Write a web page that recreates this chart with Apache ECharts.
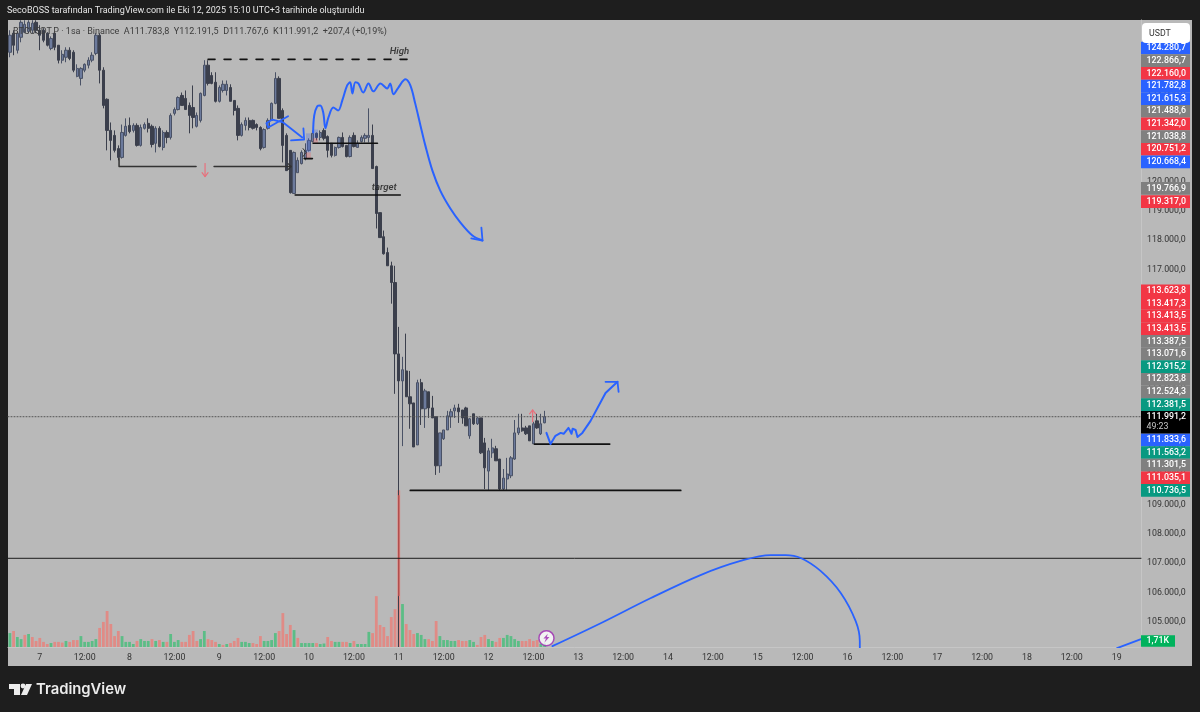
<!DOCTYPE html>
<html lang="tr">
<head>
<meta charset="UTF-8">
<title>BTCUSDT.P 1sa</title>
<script src="https://cdn.jsdelivr.net/npm/echarts@6/dist/echarts.min.js"></script>
<style>
  html, body { margin: 0; padding: 0; background: #1e1e1e; }
  #main { width: 1200px; height: 712px; }
</style>
</head>
<body>
<div id="main"></div>
<script type="text/javascript">
// hourly candles, 6 Oct 16:00 -> 12 Oct 15:00
var opens = [
  124400,125050,124470,124910,125080,125110,125150,125420,125150,125150,125050,124530,
  125050,124640,124130,124230,124470,124400,123580,123510,123790,123960,124130,124360,
  124980,123790,122800,121740,121570,121120,120820,121570,121910,121740,121910,121230,
  121810,121980,121880,121300,121810,121160,121670,121500,122320,122450,122930,122830,
  122590,122520,121880,122080,122930,123960,123610,123380,122730,123100,123100,123200,
  122760,122490,121570,121910,122080,122080,121940,121840,121160,121810,122080,122660,
  123510,122420,121570,121060,119590,120300,120610,120780,121060,121360,121640,121500,
  121740,121530,121300,120890,121160,121500,121230,120850,121570,121160,121360,121470,
  121500,121570,120510,118940,118120,117580,117130,116560,114130,113210,113550,112670,
  112460,111030,113150,112260,112840,112290,111990,110320,111240,111540,111990,112190,
  112290,112220,112290,111340,112090,111750,111950,111100,110140,110760,110900,110550,
  109530,109870,109980,110550,111440,111610,111610,111680,111070,111850,111410,111784
];
var closes = [
  124980,124640,125050,125420,125350,125420,125390,125150,124980,124810,124640,124870,
  124570,124130,124330,124470,124190,123790,123850,123850,123990,124130,124300,124980,
  123790,122590,121740,121400,121060,120820,121670,121880,121700,121910,121230,121840,
  121940,121810,121260,121810,121190,121670,121500,122250,122450,122860,122590,122450,
  122250,122180,122250,123000,123960,123340,123340,122730,123200,123310,123310,122730,
  122420,121570,121940,122080,121840,121810,121840,121120,121770,122080,122660,123510,
  122150,121230,120370,119620,120990,120720,120990,121060,121400,121640,121500,121670,
  121470,121060,120890,121160,121500,121190,120850,121500,121190,121300,121500,121570,
  121570,120440,118910,118090,117540,117130,116560,114130,113210,113590,112670,112430,
  110960,113150,112260,112870,112290,111950,110320,111440,111540,112020,112160,112290,
  112160,111950,111680,111920,111750,111950,110760,110250,110830,110930,110490,109530,
  109900,110040,110590,111440,111610,111510,111410,111170,111750,111610,111750,111991
];
var lows = [
  124230,124300,124360,124740,125050,125050,125050,125050,124470,124740,124600,124470,
  124470,124020,124020,124060,124130,123720,123550,123270,123720,123850,124060,124300,
  123340,122490,121060,120720,120990,120720,120780,121530,121640,121670,121190,121190,
  121770,121670,121160,120990,121160,121060,121300,121430,122250,122420,122590,122450,
  121640,121810,121840,122010,122900,123270,123310,122690,122690,123030,122930,122730,
  122250,121400,121530,121740,121740,121770,121740,121060,121120,121770,122080,122630,
  122150,120650,120370,119590,119590,120300,120580,120720,121020,121330,121400,121400,
  121400,120820,120820,120850,121120,121160,120820,120820,121160,121160,121330,121330,
  121330,120440,118400,118090,117510,117130,115840,112770,104150,110990,112670,111580,
  110960,111030,111710,111610,111950,111950,110010,110080,111200,111540,111610,111950,
  111780,111750,111680,111240,111710,111710,110720,109530,109500,110590,110490,109500,
  109500,109500,109900,110520,111370,111480,111370,111170,111070,111580,111370,111768
];
var highs = [
  125150,125150,125110,125490,125490,125490,125490,125490,125320,125220,125080,124940,
  125050,124640,124470,124570,124570,124470,123990,123890,124020,124230,124400,125050,
  125050,123890,122830,122010,121740,121230,121940,122150,122180,121980,121980,121940,
  122010,122150,121940,121880,121880,121740,121740,122320,122520,122900,123030,123100,
  122690,123270,122350,123030,124130,124130,123720,123720,123270,123440,123440,123310,
  122760,122590,122010,122180,122180,122110,121980,121880,121810,122150,122690,123720,
  123580,122490,121640,121060,121020,120820,121060,121300,121470,121740,121670,121740,
  121810,121570,121300,121190,121530,121670,121230,121570,121670,121400,121570,121640,
  122490,121940,120540,118940,118330,117750,117270,117130,115050,114030,114820,113550,
  112460,113250,113280,112940,112840,112700,111990,111440,111540,112190,112260,112400,
  112430,112220,112330,111950,112090,111990,111950,111270,110930,111240,111000,110550,
  110210,110590,110650,111880,112090,112090,111680,111680,111820,112090,112090,112192
];
// volume in thousands, g / r is the bar colour
var volumes = [
  6.0,6.9,4.3,3.4,5.2,5.6,4.3,2.6,3.9,2.2,1.3,1.7,
  2.2,2.2,1.9,2.6,2.2,3.0,3.0,4.7,2.2,2.2,2.6,3.4,
  8.2,10.8,15.5,9.9,4.7,6.9,4.7,2.2,2.2,1.3,2.6,3.4,
  2.6,2.6,3.4,2.6,3.0,2.2,2.2,5.6,2.2,3.0,2.2,2.2,
  5.2,6.9,2.6,3.4,6.9,3.4,3.0,2.2,1.3,0.9,1.3,1.7,
  2.6,3.9,2.2,2.2,1.7,1.7,1.3,4.7,2.6,2.6,3.0,6.0,
  6.9,14.6,5.6,9.5,7.3,3.9,1.7,1.7,1.7,1.7,1.7,1.3,
  1.5,4.3,2.6,2.2,2.2,2.2,2.2,1.7,2.6,1.3,1.3,1.3,
  6.5,6.0,21.9,9.5,8.6,4.7,12.9,16.3,67.5,18.5,9.9,7.3,
  5.6,6.0,5.2,3.4,3.4,2.6,11.2,4.7,3.0,3.0,2.6,2.6,
  3.0,2.6,2.6,3.0,2.2,0.9,4.3,5.2,3.4,2.6,2.2,3.9,
  3.9,5.2,4.7,3.4,2.6,2.6,2.6,3.4,2.6,3.0,1.3,1.71
];
var volumeSides = [
  'grggrgrrrrrg',
  'rrrgrrrggggg',
  'rrrrrrggggrg',
  'ggrgrgrgggrr',
  'rrrggrrrgrgr',
  'rrgggrrrgggg',
  'rrrrgrggggrg',
  'grrggrrgrggg',
  'grrrrrrrrgrr',
  'rgggrrrggggg',
  'rrrggrrrggrr',
  'gggggrrrrrgg'
].join('');

var priceTicks = [105000,106000,107000,108000,109000,110000,111000,112000,113000,114000,115000,116000,117000,118000,119000,120000,121000,122000,123000,124000,125000];
var lastPrice = 111991.2;
var countdown = '49:23';

// price axis badges, high to low
var badgeValues = [124280.7,122866.7,122160.0,121782.8,121615.3,121488.6,121342.0,121038.8,120751.2,120668.4,119766.9,119317.0,113623.8,113417.3,113413.5,113413.5,113387.5,113071.6,112915.2,112823.8,112524.3,112381.5,111833.6,111563.2,111301.5,111035.1,110736.5];
var badgeKinds = ['blue','gray','red','blue','blue','gray','red','gray','red','blue','gray','red','red','red','red','red','gray','gray','green','gray','gray','green','blue','green','gray','red','green'];

// drawings: [hours from the first bar, price]
var highLine = [[53.5,124160],[107.9,124160]];
var swingLine = [[29.7,120780],[29.7,120510],[50.3,120510]];
var swingLine2 = [[55.1,120510],[75.7,120510]];
var swingHead = [[74.9,120610],[75.7,120510],[74.9,120410]];
var targetLine = [[76.8,119540],[104.9,119540]];
var entryLine = [[81.6,121300],[98.8,121300]];
var entryMark = [[79.2,120780],[81.4,120780]];
var entryHead = [[78.9,121120],[79.7,120990],[78.9,120850]];
var lowLine = [[107.6,109480],[179.9,109480]];
var rightLine = [[140.8,111060],[160.9,111060]];
var levelLine = [[0,107170],[303,107170]];
var loopCurve = [[74.9,122220],[69.6,121840],[69.1,121980],[70.7,122110],[73.6,122010],[78.7,121500]];
var loopHead = [[75.7,121400],[79.2,121430],[79.0,121810]];
var mainCurve = [[81.6,121670],[81.9,122250],[82.7,122560],[83.5,122590],[84.3,122350],[84.9,121810],[85.7,122180],[87.0,122520],[88.3,122420],[89.4,122760],[90.7,123270],[91.5,123380],[92.1,123000],[92.9,123380],[93.7,123340],[95.0,123030],[96.4,123340],[97.7,123070],[99.6,123340],[101.4,123170],[102.2,123340],[103.1,122970],[104.4,123200],[106.3,123480],[107.6,123270],[108.9,122660],[110.3,121910],[111.6,121230],[113.5,120370],[115.6,119690],[118.3,119080],[121.0,118600],[124.2,118160],[126.9,117990]];
var mainHead = [[123.9,118060],[126.9,117990],[126.6,118430]];
var bottomCurve = [[144.0,111440],[145.1,111060],[146.4,111340],[147.8,111440],[148.6,111410],[149.9,111610],[150.7,111410],[151.0,111580],[151.8,111540],[152.3,111300],[153.6,111440],[155.8,111850],[159.8,112800],[163.0,113180]];
var bottomHead = [[159.8,113180],[163.0,113180],[163.3,112840]];
var arcCurve = [[145.6,104180],[158.5,104960],[171.8,105810],[185.2,106600],[195.9,107080],[204.0,107280],[208.0,107280],[212.0,107180],[217.3,106740],[222.7,105990],[226.7,105030],[227.8,104350],[227.8,104110]];
var arcTail = [[296.6,104110],[303,104420]];
var downArrow = [[52.7,120610],[52.7,120170]];
var downHead = [[51.9,120300],[52.7,120170],[53.5,120300]];
var upArrow = [[140.3,111820],[140.3,112220]];
var upHead = [[139.5,112090],[140.3,112220],[141.1,112090]];
var crashTint = [[104.5,109300],[104.5,105900]];
var noteRects = [
  [79.7,81.0,121640,120990,'blue'],
  [79.7,81.0,120990,120780,'pink'],
  [81.6,82.9,121770,121470,'blue'],
  [81.6,82.9,121470,121300,'pink']
];
var boltPoint = [144,104450];
var noteLabels = [[104.7,124430,'High'],[100.6,119780,'target']];

var SLOTS = 303;
var FONT = 'Roboto';
var BLUE = '#2962ff';
var BLACK = '#111111';
var PINK = '#e8707c';
var BADGE_COLORS = {blue: '#2962ff', gray: '#808080', red: '#f23645', green: '#089981'};
var RECT_COLORS = {blue: 'rgba(60,100,230,0.28)', pink: 'rgba(240,80,90,0.28)'};
var BADGE_H = 12.65;
var AXIS_FONT = 8.8;

// category labels, one slot per hour
var categories = [];
for (var s = 0; s < SLOTS; s++) {
  var hour = (16 + s) % 24;
  var day = 6 + Math.floor((16 + s) / 24);
  categories.push(hour === 0 ? String(day) : hour === 12 ? '12:00' : '');
}

var candleData = opens.map(function (o, i) { return [o, closes[i], lows[i], highs[i]]; });
var volumeData = volumes.map(function (v, i) {
  return {value: v, itemStyle: {color: volumeSides[i] === 'g' ? '#5cbd86' : '#e08b86'}};
});

function fmtPrice(v) {
  var parts = v.toFixed(1).split('.');
  return parts[0].replace(/\B(?=(\d{3})+$)/g, '.') + ',' + parts[1];
}

function drawLine(points, color, width, extra) {
  var s = {
    type: 'line', xAxisIndex: 1, yAxisIndex: 0, data: points, symbol: 'none', z: 5, silent: true,
    lineStyle: {color: color, width: width, cap: 'round', join: 'round'}
  };
  if (extra && extra.dash) s.lineStyle.type = extra.dash;
  if (extra && extra.smooth) s.smooth = extra.smooth;
  return s;
}

// labels are pushed away from the last price box so they never overlap
function badgeCenters(api) {
  var lastY = api.coord([0, lastPrice])[1];
  var centers = [];
  var limit = lastY - 5.8 - BADGE_H / 2;
  var i;
  for (i = badgeValues.length - 1; i >= 0; i--) {
    if (badgeValues[i] < lastPrice) continue;
    var up = Math.min(api.coord([0, badgeValues[i]])[1], limit);
    centers[i] = up;
    limit = up - BADGE_H;
  }
  limit = lastY + 16.8 + BADGE_H / 2;
  for (i = 0; i < badgeValues.length; i++) {
    if (badgeValues[i] > lastPrice) continue;
    var down = Math.max(api.coord([0, badgeValues[i]])[1], limit);
    centers[i] = down;
    limit = down + BADGE_H;
  }
  return centers;
}

function renderBadge(params, api) {
  var i = params.dataIndex;
  var x = params.coordSys.x + params.coordSys.width;
  var y = badgeCenters(api)[i];
  return {
    type: 'group',
    children: [
      {type: 'rect', shape: {x: x, y: y - BADGE_H / 2, width: 49, height: BADGE_H}, style: {fill: BADGE_COLORS[badgeKinds[i]]}},
      {type: 'text', style: {x: x + 5.5, y: y, text: fmtPrice(badgeValues[i]), fill: '#ffffff', font: '500 ' + AXIS_FONT + 'px ' + FONT, verticalAlign: 'middle'}}
    ]
  };
}

function renderLastBadge(params, api) {
  var x = params.coordSys.x + params.coordSys.width;
  var y = api.coord([0, lastPrice])[1];
  return {
    type: 'group',
    children: [
      {type: 'rect', shape: {x: x, y: y - 5.8, width: 49, height: 22.6}, style: {fill: '#000000'}},
      {type: 'text', style: {x: x + 5.5, y: y, text: fmtPrice(lastPrice), fill: '#ffffff', font: '500 ' + AXIS_FONT + 'px ' + FONT, verticalAlign: 'middle'}},
      {type: 'text', style: {x: x + 5.5, y: y + 10.4, text: countdown, fill: '#c8c8c8', font: '400 ' + AXIS_FONT + 'px ' + FONT, verticalAlign: 'middle'}}
    ]
  };
}

function renderRect(params, api) {
  var r = noteRects[params.dataIndex];
  var a = api.coord([r[0], r[2]]);
  var b = api.coord([r[1], r[3]]);
  return {type: 'rect', shape: {x: a[0], y: a[1], width: b[0] - a[0], height: b[1] - a[1]}, style: {fill: RECT_COLORS[r[4]]}};
}

function renderVolumeBadge(params, api) {
  var x = params.coordSys.x + params.coordSys.width;
  var y = api.coord([0, api.value(1)])[1] - 2;
  return {
    type: 'group',
    children: [
      {type: 'rect', shape: {x: x, y: y - 5.8, width: 34, height: 11.6}, style: {fill: '#00b25c'}},
      {type: 'text', style: {x: x + 5.5, y: y, text: api.value(1).toFixed(2).replace('.', ',') + 'K', fill: '#ffffff', font: '500 ' + AXIS_FONT + 'px ' + FONT, verticalAlign: 'middle'}}
    ]
  };
}

var myChart = echarts.init(document.getElementById('main'));

var option = {
  animation: false,
  backgroundColor: '#1e1e1e',
  textStyle: {fontFamily: FONT},
  title: [
    {
      text: 'SecoBOSS tarafından TradingView.com ile Eki 12, 2025 15:10 UTC+3 tarihinde oluşturuldu',
      left: 7, top: 6, padding: 0,
      textStyle: {color: '#e6e6e6', fontSize: 9, fontWeight: 400, fontFamily: FONT}
    },
    {
      text: 'BTCUSDT.P · 1sa · Binance  A111.783,8  Y112.191,5  D111.767,6  K111.991,2  +207,4 (+0,19%)',
      left: 13, top: 27, padding: 0, z: 20,
      textStyle: {color: '#3c3c3c', fontSize: 9, fontWeight: 400, fontFamily: FONT}
    },
    {
      text: 'TradingView',
      left: 36, top: 682, padding: 0,
      textStyle: {color: '#ececec', fontSize: 14.8, fontWeight: 600, fontFamily: 'Inter'}
    },
    {
      text: 'USDT',
      left: 1149, top: 29, padding: 0, z: 20,
      textStyle: {color: '#333333', fontSize: AXIS_FONT, fontWeight: 400, fontFamily: FONT}
    }
  ],
  graphic: [
    {type: 'rect', z: -1, silent: true, shape: {x: 8, y: 20, width: 1184, height: 646}, style: {fill: '#b9b9b9'}},
    {type: 'rect', z: 15, silent: true, shape: {x: 1142, y: 23, width: 48, height: 20, r: 4}, style: {fill: '#ffffff'}},
    {type: 'polygon', silent: true, shape: {points: [[9,684],[20,684],[20,695],[14,695],[14,689],[9,689]]}, style: {fill: '#ececec'}},
    {type: 'circle', silent: true, shape: {cx: 23, cy: 686, r: 2.4}, style: {fill: '#ececec'}},
    {type: 'polygon', silent: true, shape: {points: [[26,684],[32,684],[27,695],[21,695]]}, style: {fill: '#ececec'}}
  ],
  grid: {left: 8, right: 59, top: 20, bottom: 65},
  xAxis: [
    {
      type: 'category', data: categories, boundaryGap: true,
      axisLine: {show: true, lineStyle: {color: '#c6c6c6', width: 1}},
      axisTick: {show: false},
      splitLine: {show: false},
      axisLabel: {interval: 0, color: '#333333', fontSize: AXIS_FONT, margin: 6, fontFamily: FONT}
    },
    {type: 'value', show: false, min: 0, max: SLOTS, splitLine: {show: false}}
  ],
  yAxis: [
    {
      type: 'value', position: 'right', min: 104150, max: 125499,
      axisLine: {show: true, onZero: false, lineStyle: {color: '#c6c6c6', width: 1}},
      axisTick: {show: false},
      splitLine: {show: false},
      axisLabel: {customValues: priceTicks, color: '#333333', fontSize: AXIS_FONT, margin: 6, fontFamily: FONT, formatter: fmtPrice}
    },
    {type: 'value', show: false, min: 0, max: 270, splitLine: {show: false}}
  ],
  series: [
    {
      type: 'bar', xAxisIndex: 0, yAxisIndex: 1, data: volumeData, barWidth: 2.8, z: 1, silent: true
    },
    {
      type: 'candlestick', xAxisIndex: 0, yAxisIndex: 0, data: candleData, barWidth: 2.8, z: 3, silent: true, clip: true,
      itemStyle: {color: '#6c7a9c', color0: '#3b3f4c', borderColor: '#4a5266', borderColor0: '#3b3f4c', borderWidth: 1}
    },
    drawLine(crashTint, '#b5504e', 1.4),
    drawLine([[0, lastPrice], [SLOTS, lastPrice]], '#555555', 1, {dash: [1, 2]}),
    drawLine(levelLine, '#1c1c1c', 1),
    drawLine(highLine, BLACK, 1.6, {dash: [7, 9]}),
    drawLine(swingLine, '#333333', 1.5),
    drawLine(swingLine2, '#333333', 1.5),
    drawLine(swingHead, '#333333', 1.2),
    drawLine(targetLine, BLACK, 1.6),
    drawLine(entryLine, BLACK, 1.6),
    drawLine(entryMark, BLACK, 1.6),
    drawLine(entryHead, '#333333', 1),
    drawLine(lowLine, BLACK, 1.8),
    drawLine(rightLine, BLACK, 1.8),
    drawLine(loopCurve, BLUE, 1.8),
    drawLine(loopHead, BLUE, 1.8),
    drawLine(mainCurve, BLUE, 2, {smooth: 0.35}),
    drawLine(mainHead, BLUE, 1.8),
    drawLine(bottomCurve, BLUE, 2),
    drawLine(bottomHead, BLUE, 1.8),
    drawLine(arcCurve, BLUE, 1.8, {smooth: 0.35}),
    drawLine(arcTail, BLUE, 1.8),
    drawLine(downArrow, PINK, 1.2),
    drawLine(downHead, PINK, 1.2),
    drawLine(upArrow, PINK, 1.2),
    drawLine(upHead, PINK, 1.2),
    {
      type: 'custom', xAxisIndex: 1, yAxisIndex: 0, z: 4, silent: true,
      data: noteRects.map(function (r) { return [r[0], r[2]]; }),
      renderItem: renderRect
    },
    {
      type: 'scatter', xAxisIndex: 1, yAxisIndex: 0, z: 6, silent: true, data: noteLabels,
      symbolSize: 1, itemStyle: {color: 'transparent'},
      label: {
        show: true, position: 'inside', color: '#1c1c1c', fontSize: 9.6, fontStyle: 'italic', fontWeight: 600, fontFamily: FONT,
        formatter: function (p) { return p.value[2]; }
      }
    },
    {
      type: 'scatter', xAxisIndex: 1, yAxisIndex: 0, z: 7, silent: true, data: [boltPoint],
      symbol: 'circle', symbolSize: 15,
      itemStyle: {color: '#ffffff', borderColor: '#9c27b0', borderWidth: 1.5}
    },
    {
      type: 'scatter', xAxisIndex: 1, yAxisIndex: 0, z: 8, silent: true, data: [boltPoint],
      symbol: 'path://M6,0 L1,6 L4,6 L2,11 L8,4 L5,4 Z', symbolSize: [6, 9],
      itemStyle: {color: '#9c27b0'}
    },
    {
      type: 'custom', xAxisIndex: 1, yAxisIndex: 0, z: 10, silent: true,
      data: badgeValues.map(function (v) { return [0, v]; }),
      renderItem: renderBadge
    },
    {
      type: 'custom', xAxisIndex: 1, yAxisIndex: 0, z: 11, silent: true,
      data: [[0, lastPrice]],
      renderItem: renderLastBadge
    },
    {
      type: 'custom', xAxisIndex: 1, yAxisIndex: 1, z: 10, silent: true,
      data: [[0, volumes[volumes.length - 1]]],
      renderItem: renderVolumeBadge
    }
  ]
};

myChart.setOption(option);
</script>
</body>
</html>
